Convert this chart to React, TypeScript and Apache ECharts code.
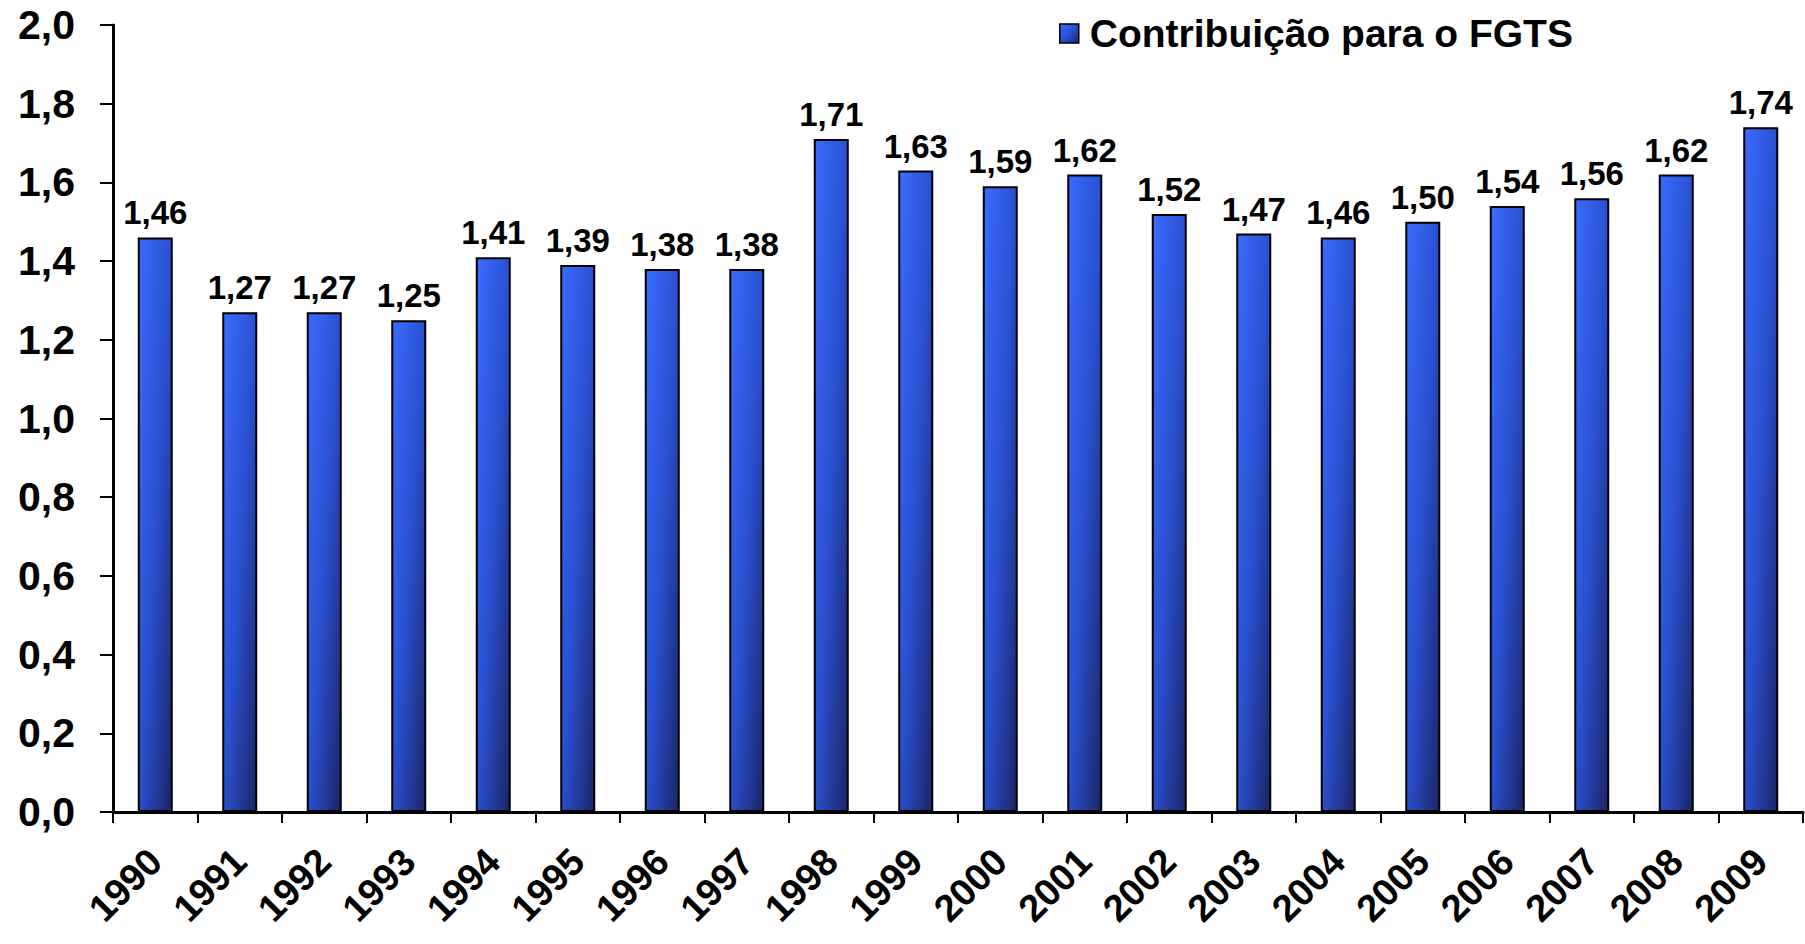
import React, { useEffect, useRef } from "react";
import * as echarts from "echarts";

const years = ["1990","1991","1992","1993","1994","1995","1996","1997","1998","1999","2000","2001","2002","2003","2004","2005","2006","2007","2008","2009"];
const values = [1.46,1.27,1.27,1.25,1.41,1.39,1.38,1.38,1.71,1.63,1.59,1.62,1.52,1.47,1.46,1.50,1.54,1.56,1.62,1.74];
const seriesName = "Contribuição para o FGTS";

const FONT = "'Liberation Sans', Arial, sans-serif";

export default function App() {
  const ref = useRef<HTMLDivElement>(null);
  useEffect(() => {
    if (!ref.current) return;
    const chart = echarts.init(ref.current, null, { renderer: "svg" });
    const barColor = new echarts.graphic.LinearGradient(0, 0, 1, 1, [
      { offset: 0, color: "#3a6cff" },
      { offset: 0.5, color: "#2a50d0" },
      { offset: 1, color: "#1a2565" },
    ]);
    chart.setOption({
      animation: false,
      backgroundColor: "#ffffff",
      textStyle: { fontFamily: FONT },
      legend: {
        data: [{ name: seriesName, icon: "rect" }],
        left: 1054,
        top: 9,
        itemWidth: 19,
        itemHeight: 19,
        itemGap: 12,
        textStyle: { fontSize: 39, fontWeight: "bold", color: "#000", fontFamily: FONT, padding: [0, 0, 0, 6] },
        itemStyle: { borderColor: "#000", borderWidth: 1.5 },
      },
      grid: { left: 113, top: 25, right: 2, bottom: 132, containLabel: false },
      xAxis: {
        type: "category",
        data: years,
        boundaryGap: true,
        axisLine: { lineStyle: { color: "#000", width: 3 } },
        axisTick: { show: true, length: 11, lineStyle: { color: "#000", width: 2 } },
        axisLabel: {
          rotate: 45,
          margin: 43,
          interval: 0,
          fontSize: 38,
          fontWeight: "bold",
          color: "#000",
          fontFamily: FONT,
        },
      },
      yAxis: {
        type: "value",
        min: 0,
        max: 2,
        interval: 0.2,
        splitLine: { show: false },
        axisLine: { show: true, lineStyle: { color: "#000", width: 3 } },
        axisTick: { show: true, length: 13, lineStyle: { color: "#000", width: 2 } },
        axisLabel: {
          margin: 38,
          fontSize: 41,
          fontWeight: "bold",
          color: "#000",
          fontFamily: FONT,
          formatter: (v: number) => v.toFixed(1).replace(".", ","),
        },
      },
      series: [
        {
          name: seriesName,
          type: "bar",
          data: values,
          barWidth: 35,
          itemStyle: { color: barColor, borderColor: "#000", borderWidth: 2 },
          label: {
            show: true,
            position: "top",
            distance: 8,
            fontSize: 33,
            fontWeight: "bold",
            color: "#000",
            fontFamily: FONT,
            formatter: (p: any) => p.value.toFixed(2).replace(".", ","),
          },
        },
      ],
    });
    return () => chart.dispose();
  }, []);
  return <div ref={ref} style={{ width: 1805, height: 944, position: "absolute", left: 0, top: 0 }} />;
}
